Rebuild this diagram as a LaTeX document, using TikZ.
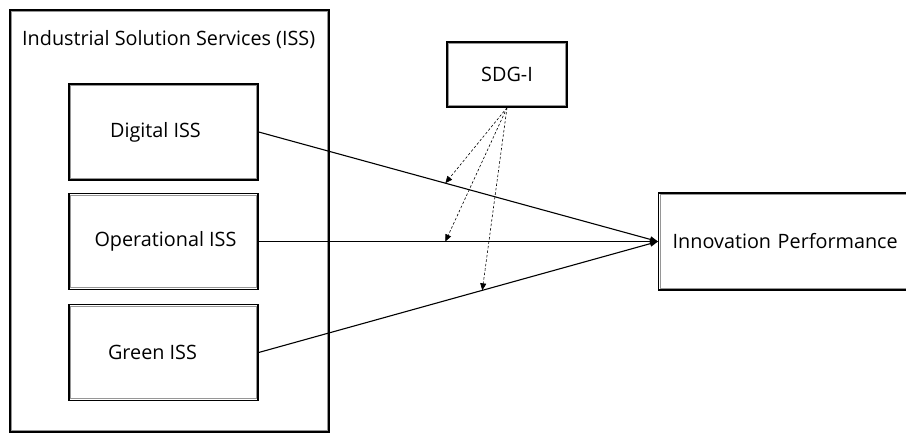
\documentclass[tikz,border=0pt]{standalone}
\usepackage{fontspec}
\setmainfont{Open Sans}
\usepackage{tikz}
\usetikzlibrary{arrows.meta}
\definecolor{rim}{RGB}{150,150,150}
\tikzset{
  framed/.style={draw=black, line width=1.4pt, fill=white, inner sep=0pt,
    path picture={\draw[rim, line width=1.1pt]
      ([shift={(1.7pt,-1.7pt)}]path picture bounding box.north west) rectangle
      ([shift={(-1.7pt,1.7pt)}]path picture bounding box.south east);}},
  effect/.style={line width=1.1pt, -{Triangle[length=8pt,width=6pt]}},
  moderate/.style={line width=0.6pt, dash pattern=on 2.5pt off 2pt, -{Triangle[length=7pt,width=6pt]}}
}
\newcommand{\issbox}[4]{\node[framed, minimum width=189pt, minimum height=96pt,
  label={[xshift=#3]center:#4}] (#1) at (163.5,#2) {};}
\begin{document}
\begin{tikzpicture}[x=1pt,y=-1pt,font=\fontsize{19.8}{23}\selectfont]
\useasboundingbox (0,0) rectangle (906,435);
\node[framed, minimum width=319pt, minimum height=422pt] (iss) at (169.5,221) {};
\node[anchor=west, inner sep=0pt] (isslabel) at (22,40) {Industrial Solution Services (ISS)};
\issbox{digital}{132}{-8pt}{Digital ISS}
\issbox{operational}{241.5}{2pt}{Operational ISS}
\issbox{green}{352.5}{-11pt}{Green ISS}
\node[framed, minimum width=120pt, minimum height=65pt] (sdg) at (507,74.5) {SDG-I};
\node[framed, anchor=west, minimum height=97pt, text width=280pt, align=left, inner xsep=14pt] (ip) at (658,241.5) {Innovation Performance};
\draw[effect] (digital.east) -- coordinate[pos=0.4675] (onDigital) (ip.west);
\draw[effect] (operational.east) -- coordinate[pos=0.4675] (onOperational) (ip.west);
\draw[effect] (green.east) -- coordinate[pos=0.56] (onGreen) (ip.west);
\draw[moderate] (sdg.south) -- (onDigital);
\draw[moderate] (sdg.south) -- (onOperational);
\draw[moderate] (sdg.south) -- (onGreen);
\end{tikzpicture}
\end{document}
